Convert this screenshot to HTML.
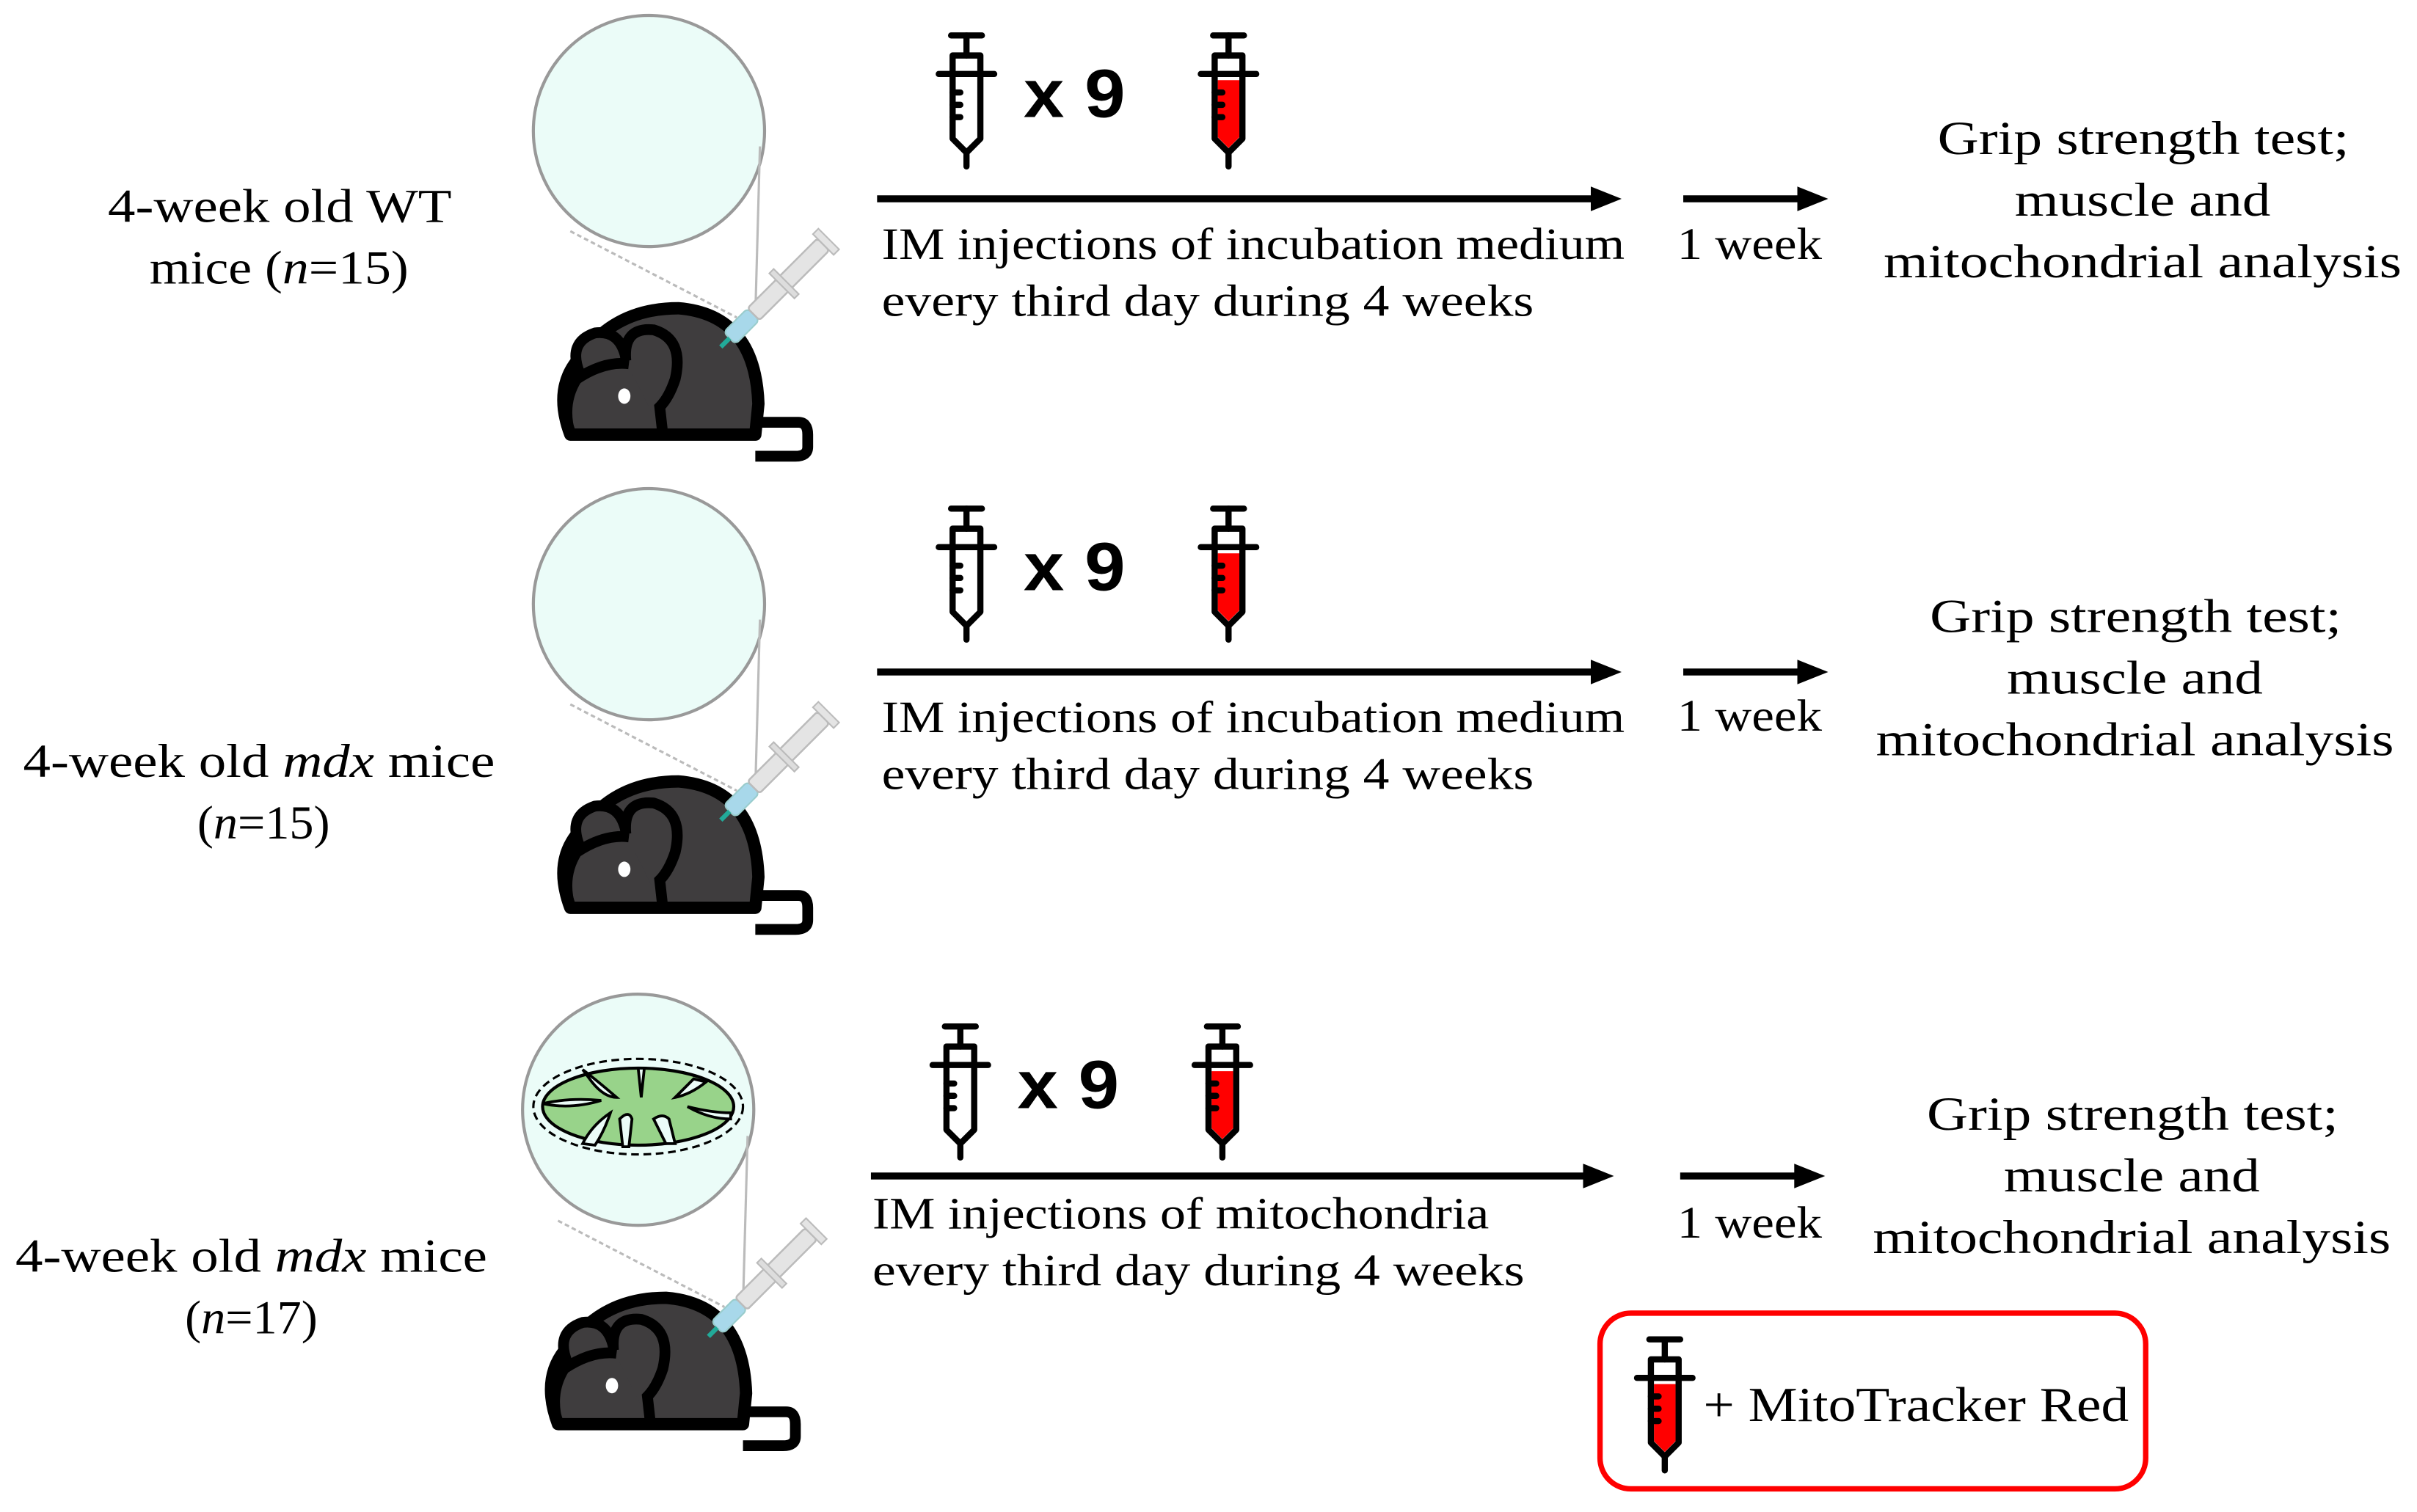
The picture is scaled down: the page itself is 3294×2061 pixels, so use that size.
<!DOCTYPE html>
<html><head><meta charset="utf-8"><style>
html,body{margin:0;padding:0;background:#fff;}
svg{display:block;}
text{font-family:"Liberation Serif",serif;fill:#000;}
text.x9{font-family:"Liberation Sans",sans-serif;font-weight:bold;}
</style></head><body>
<svg width="3294" height="2061" viewBox="0 0 1568 981" preserveAspectRatio="none" xmlns="http://www.w3.org/2000/svg">
<defs>
<g id="syr" fill="none" stroke="#000" stroke-width="4" stroke-linecap="round" stroke-linejoin="round">
  <line x1="-10" y1="1" x2="10" y2="1"/>
  <line x1="0" y1="1" x2="0" y2="14"/>
  <path d="M-9 14 H9 V68 L0 77 L-9 68 Z"/>
  <line x1="-18" y1="26" x2="18" y2="26"/>
  <line x1="-9" y1="38" x2="-4" y2="38"/>
  <line x1="-9" y1="46" x2="-4" y2="46"/>
  <line x1="-9" y1="54" x2="-4" y2="54"/>
  <line x1="0" y1="77" x2="0" y2="86"/>
</g>
<g id="syrred">
  <path d="M-7 30 H7 V67 L0 74 L-7 67 Z" fill="#f00"/>
  <use href="#syr"/>
</g>
<g id="mouse">
  <line x1="370" y1="150" x2="478" y2="206" stroke="#bbb" stroke-width="1.5" stroke-dasharray="3 2"/>
  <line x1="493" y1="95" x2="490" y2="205" stroke="#bbb" stroke-width="1.5"/>
  <path d="M488 274 H518 Q524 274 524 282 V290 Q524 296 516 296 H490" fill="none" stroke="#000" stroke-width="7"/>
  <path d="M370 282 Q358 250 378 230 Q400 200 440 200 Q490 204 492 262 L490 282 Z" fill="#3f3d3e" stroke="#000" stroke-width="8" stroke-linejoin="round"/>
  <path d="M376 242 Q368 222 386 216 Q402 214 406 232" fill="#3f3d3e" stroke="#000" stroke-width="7"/>
  <path d="M406 234 Q404 212 424 214 Q444 220 438 246 Q434 258 428 264 L430 282" fill="#3f3d3e" stroke="#000" stroke-width="7"/>
  <path d="M370 282 Q364 262 374 246 Q392 234 408 236" fill="none" stroke="#000" stroke-width="7"/>
  <ellipse cx="405" cy="257" rx="4" ry="5" fill="#fff"/>
  <g transform="rotate(-45 480 212)">
    <rect x="470" y="207" width="22" height="11" rx="3" fill="#a8d8ea" stroke="#9cc" stroke-width="1"/>
    <rect x="492" y="207" width="64" height="11" rx="2" fill="#e4e4e4" stroke="#bbb" stroke-width="1.2"/>
    <rect x="518" y="201" width="4" height="23" fill="#ddd" stroke="#bbb" stroke-width="1"/>
    <rect x="556" y="203" width="5" height="19" fill="#e4e4e4" stroke="#bbb" stroke-width="1"/>
    <line x1="462" y1="212.5" x2="470" y2="212.5" stroke="#2a9" stroke-width="3"/>
  </g>
</g>
</defs>

<!-- Row 1 -->
<circle cx="421" cy="85" r="75" fill="#ebfcf8" stroke="#999" stroke-width="2"/>
<use href="#mouse"/>
<use href="#syr" transform="translate(627,22)"/>
<text class="x9" x="664" y="76" font-size="44" textLength="66" lengthAdjust="spacingAndGlyphs">x 9</text>
<use href="#syrred" transform="translate(797,22)"/>
<line x1="569" y1="129" x2="1036" y2="129" stroke="#000" stroke-width="4.5"/>
<path d="M1032 121 L1052 129 L1032 137 Z"/>
<line x1="1092" y1="129" x2="1170" y2="129" stroke="#000" stroke-width="4.5"/>
<path d="M1166 121 L1186 129 L1166 137 Z"/>
<text x="572" y="168" font-size="29" textLength="482" lengthAdjust="spacingAndGlyphs">IM injections of incubation medium</text>
<text x="572" y="205" font-size="29" textLength="423" lengthAdjust="spacingAndGlyphs">every third day during 4 weeks</text>
<text x="1088" y="168" font-size="29" textLength="94" lengthAdjust="spacingAndGlyphs">1 week</text>
<text x="1257" y="100" font-size="31" textLength="267" lengthAdjust="spacingAndGlyphs">Grip strength test;</text>
<text x="1307" y="140" font-size="31" textLength="166" lengthAdjust="spacingAndGlyphs">muscle and</text>
<text x="1222" y="180" font-size="31" textLength="336" lengthAdjust="spacingAndGlyphs">mitochondrial analysis</text>
<text x="70" y="144" font-size="31" textLength="223" lengthAdjust="spacingAndGlyphs">4-week old WT</text>
<text x="97" y="184" font-size="31" textLength="168" lengthAdjust="spacingAndGlyphs">mice (<tspan font-style="italic">n</tspan>=15)</text>

<!-- Row 2 -->
<circle cx="421" cy="392" r="75" fill="#ebfcf8" stroke="#999" stroke-width="2"/>
<use href="#mouse" transform="translate(0,307)"/>
<use href="#syr" transform="translate(627,329)"/>
<text class="x9" x="664" y="383" font-size="44" textLength="66" lengthAdjust="spacingAndGlyphs">x 9</text>
<use href="#syrred" transform="translate(797,329)"/>
<line x1="569" y1="436" x2="1036" y2="436" stroke="#000" stroke-width="4.5"/>
<path d="M1032 428 L1052 436 L1032 444 Z"/>
<line x1="1092" y1="436" x2="1170" y2="436" stroke="#000" stroke-width="4.5"/>
<path d="M1166 428 L1186 436 L1166 444 Z"/>
<text x="572" y="475" font-size="29" textLength="482" lengthAdjust="spacingAndGlyphs">IM injections of incubation medium</text>
<text x="572" y="512" font-size="29" textLength="423" lengthAdjust="spacingAndGlyphs">every third day during 4 weeks</text>
<text x="1088" y="474" font-size="29" textLength="94" lengthAdjust="spacingAndGlyphs">1 week</text>
<text x="1252" y="410" font-size="31" textLength="267" lengthAdjust="spacingAndGlyphs">Grip strength test;</text>
<text x="1302" y="450" font-size="31" textLength="166" lengthAdjust="spacingAndGlyphs">muscle and</text>
<text x="1217" y="490" font-size="31" textLength="336" lengthAdjust="spacingAndGlyphs">mitochondrial analysis</text>
<text x="15" y="504" font-size="31" textLength="306" lengthAdjust="spacingAndGlyphs">4-week old <tspan font-style="italic">mdx</tspan> mice</text>
<text x="128" y="544" font-size="31" textLength="86" lengthAdjust="spacingAndGlyphs">(<tspan font-style="italic">n</tspan>=15)</text>

<!-- Row 3 -->
<circle cx="414" cy="720" r="75" fill="#ebfcf8" stroke="#999" stroke-width="2"/>
<ellipse cx="414" cy="718" rx="68" ry="31" fill="none" stroke="#000" stroke-width="1.5" stroke-dasharray="5 3"/>
<ellipse cx="414" cy="718" rx="62" ry="25" fill="#98d38a" stroke="#000" stroke-width="2"/>
<g fill="#ebfcf8" stroke="#000" stroke-width="1.8">
  <path d="M352 716 Q370 712 390 714 Q370 720 352 716 Z"/>
  <path d="M378 694 Q386 700 400 712 Q392 712 384 702 Z"/>
  <path d="M414 693 L416 712 L418 693 Z"/>
  <path d="M450 700 Q444 706 438 712 Q448 710 458 702 Z"/>
  <path d="M474 722 Q462 722 446 718 Q460 726 474 726 Z"/>
  <path d="M378 742 Q384 730 396 722 Q392 734 386 743 Z"/>
  <path d="M404 744 L402 726 Q408 720 410 726 L408 744 Z"/>
  <path d="M432 742 L424 726 Q430 722 434 726 L438 742 Z"/>
</g>
<use href="#mouse" transform="translate(-8,642)"/>
<use href="#syr" transform="translate(623,665)"/>
<text class="x9" x="660" y="719" font-size="44" textLength="66" lengthAdjust="spacingAndGlyphs">x 9</text>
<use href="#syrred" transform="translate(793,665)"/>
<line x1="565" y1="763" x2="1031" y2="763" stroke="#000" stroke-width="4.5"/>
<path d="M1027 755 L1047 763 L1027 771 Z"/>
<line x1="1090" y1="763" x2="1168" y2="763" stroke="#000" stroke-width="4.5"/>
<path d="M1164 755 L1184 763 L1164 771 Z"/>
<text x="566" y="797" font-size="29" textLength="400" lengthAdjust="spacingAndGlyphs">IM injections of mitochondria</text>
<text x="566" y="834" font-size="29" textLength="423" lengthAdjust="spacingAndGlyphs">every third day during 4 weeks</text>
<text x="1088" y="803" font-size="29" textLength="94" lengthAdjust="spacingAndGlyphs">1 week</text>
<text x="1250" y="733" font-size="31" textLength="267" lengthAdjust="spacingAndGlyphs">Grip strength test;</text>
<text x="1300" y="773" font-size="31" textLength="166" lengthAdjust="spacingAndGlyphs">muscle and</text>
<text x="1215" y="813" font-size="31" textLength="336" lengthAdjust="spacingAndGlyphs">mitochondrial analysis</text>
<text x="10" y="825" font-size="31" textLength="306" lengthAdjust="spacingAndGlyphs">4-week old <tspan font-style="italic">mdx</tspan> mice</text>
<text x="120" y="865" font-size="31" textLength="86" lengthAdjust="spacingAndGlyphs">(<tspan font-style="italic">n</tspan>=17)</text>

<!-- Legend box -->
<rect x="1038" y="852" width="354" height="114" rx="20" fill="#fff" stroke="#f00" stroke-width="3.5"/>
<use href="#syrred" transform="translate(1080,868)"/>
<text x="1105" y="922" font-size="32" textLength="276" lengthAdjust="spacingAndGlyphs">+ MitoTracker Red</text>
</svg>
</body></html>
